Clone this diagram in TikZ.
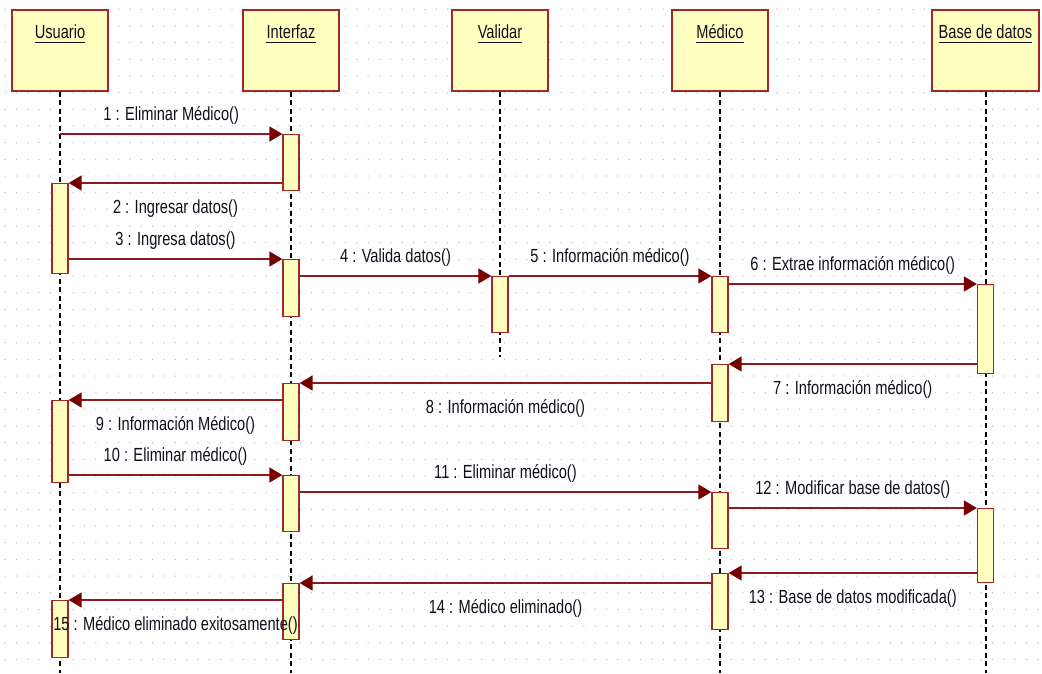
\documentclass[tikz,border=0pt]{standalone}
\usepackage{fontspec}
\setmainfont{Liberation Sans}[FakeStretch=0.77]
\usetikzlibrary{arrows.meta,calc}
\definecolor{boxfill}{HTML}{FFFFC0}
\definecolor{boxdraw}{HTML}{A02828}
\definecolor{msgline}{HTML}{8C1C1C}
\definecolor{msghead}{HTML}{780000}
\definecolor{txt}{HTML}{10101C}
\definecolor{dotc}{HTML}{C4C4C4}
\begin{document}
\begin{tikzpicture}[x=1pt,y=-1pt,
  lblfont/.style={font=\fontsize{19}{22}\selectfont},
  headbox/.style={draw=boxdraw, line width=1.5pt, fill=boxfill, minimum height=81pt, anchor=north, inner sep=0},
  headtxt/.style={lblfont, anchor=base, inner sep=0, text=txt},
  act/.style={draw=boxdraw, line width=1.3pt, fill=boxfill, minimum width=16pt, anchor=north, inner sep=0},
  life/.style={line width=2pt, dash pattern=on 5pt off 3.5pt, black},
  msg/.style={draw=msgline, line width=1.6pt, -{Triangle[length=13pt,width=15pt,fill=msghead,color=msghead]}},
  lblA/.style={lblfont, anchor=base, yshift=14pt, inner sep=0, text=txt},
  lblB/.style={lblfont, anchor=base, yshift=-30pt, inner sep=0, text=txt},
  uline/.style={line width=1.4pt, draw=txt}
]
\useasboundingbox[fill=white] (0,0) rectangle (1042,673);
% dotted grid
\foreach \i in {0,...,91} {
  \foreach \j in {0,...,39} {
    \fill[dotc] (5+\i*11.35, 9.3+\j*16.67) circle (0.75);
  }
}
% header boxes
\node[headbox, minimum width=96pt] (u) at (60,9) {};
\node[headbox, minimum width=96pt] (i) at (291,9) {};
\node[headbox, minimum width=96pt] (v) at (500,9) {};
\node[headbox, minimum width=96pt] (m) at (720,9) {};
\node[headbox, minimum width=107pt] (b) at (985.5,9) {};
\node[headtxt] (uT) at (60,38.5) {Usuario};
\node[headtxt] (iT) at (291,38.5) {Interfaz};
\node[headtxt] (vT) at (500,38.5) {Validar};
\node[headtxt] (mT) at (720,38.5) {Médico};
\node[headtxt] (bT) at (985.5,38.5) {Base de datos};
\foreach \n in {uT,iT,vT,mT,bT} {
  \draw[uline] ([yshift=-4pt]\n.base west) -- ([yshift=-4pt]\n.base east);
}
% lifelines
\coordinate (uE) at (60,673);
\coordinate (iE) at (291,673);
\coordinate (vE) at (500,357);
\coordinate (mE) at (720,673);
\coordinate (bE) at (985.5,673);
\draw[life] (u.south) -- (uE);
\draw[life] (i.south) -- (iE);
\draw[life] (v.south) -- (vE);
\draw[life] (m.south) -- (mE);
\draw[life] (b.south) -- (bE);
% activations
\node[act, minimum height=90pt] (uA1) at (60,183) {};
\node[act, minimum height=82pt] (uA2) at (60,400) {};
\node[act, minimum height=57pt] (uA3) at (60,600) {};
\node[act, minimum height=56pt] (iA1) at (291,134) {};
\node[act, minimum height=57pt] (iA2) at (291,259) {};
\node[act, minimum height=57pt] (iA3) at (291,383) {};
\node[act, minimum height=56pt] (iA4) at (291,475) {};
\node[act, minimum height=56pt] (iA5) at (291,583) {};
\node[act, minimum height=56pt] (vA1) at (500,276) {};
\node[act, minimum height=56pt] (mA1) at (720,276) {};
\node[act, minimum height=57pt] (mA2) at (720,364) {};
\node[act, minimum height=56pt] (mA3) at (720,492) {};
\node[act, minimum height=56pt] (mA4) at (720,573) {};
\node[act, minimum height=89pt] (bA1) at (985.5,284) {};
\node[act, minimum height=74pt] (bA2) at (985.5,508) {};
% messages
\draw[msg] (u.south |- iA1.north) -- node[lblA] {1 : Eliminar Médico()} (iA1.north west);
\draw[msg] (iA1.west |- uA1.north) -- node[lblB] {2 : Ingresar datos()} (uA1.north east);
\draw[msg] (uA1.east |- iA2.north) -- node[lblA] {3 : Ingresa datos()} (iA2.north west);
\draw[msg] (iA2.east |- vA1.north) -- node[lblA] {4 : Valida datos()} (vA1.north west);
\draw[msg] (vA1.north east) -- node[lblA] {5 : Información médico()} (mA1.north west);
\draw[msg] (mA1.east |- bA1.north) -- node[lblA] {6 : Extrae información médico()} (bA1.north west);
\draw[msg] (bA1.west |- mA2.north) -- node[lblB] {7 : Información médico()} (mA2.north east);
\draw[msg] (mA2.west |- iA3.north) -- node[lblB] {8 : Información médico()} (iA3.north east);
\draw[msg] (iA3.west |- uA2.north) -- node[lblB] {9 : Información Médico()} (uA2.north east);
\draw[msg] (uA2.east |- iA4.north) -- node[lblA] {10 : Eliminar médico()} (iA4.north west);
\draw[msg] (iA4.east |- mA3.north) -- node[lblA] {11 : Eliminar médico()} (mA3.north west);
\draw[msg] (mA3.east |- bA2.north) -- node[lblA] {12 : Modificar base de datos()} (bA2.north west);
\draw[msg] (bA2.west |- mA4.north) -- node[lblB] {13 : Base de datos modificada()} (mA4.north east);
\draw[msg] (mA4.west |- iA5.north) -- node[lblB] {14 : Médico eliminado()} (iA5.north east);
\draw[msg] (iA5.west |- uA3.north) -- node[lblB] {15 : Médico eliminado exitosamente()} (uA3.north east);
\end{tikzpicture}
\end{document}
